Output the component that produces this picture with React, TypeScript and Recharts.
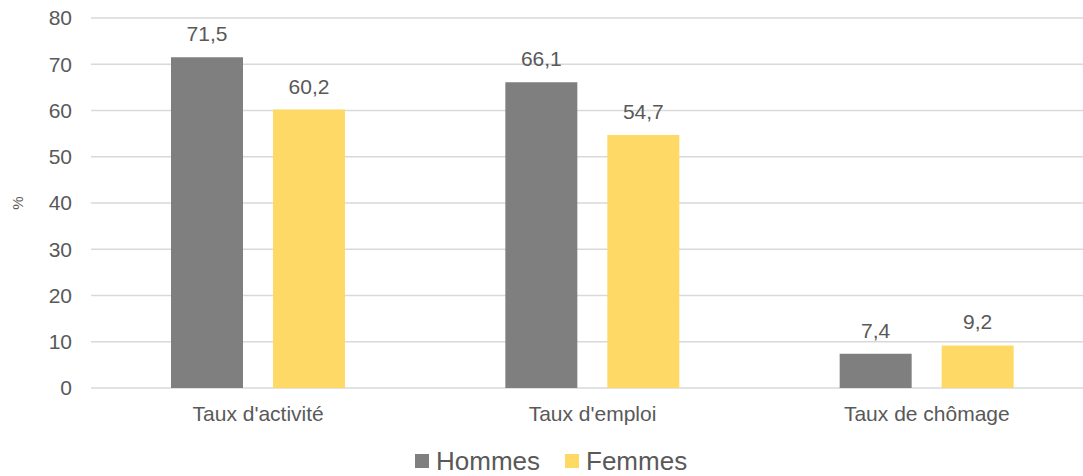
import { BarChart, Bar, XAxis, YAxis, CartesianGrid, LabelList } from "recharts";

const CATEGORIES = ["Taux d'activité", "Taux d'emploi", "Taux de chômage"];
const HOMMES = [71.5, 66.1, 7.4];
const FEMMES = [60.2, 54.7, 9.2];
const Y_TICKS = [0, 10, 20, 30, 40, 50, 60, 70, 80];

const SERIES = [
  { key: "hommes", name: "Hommes", color: "#7f7f7f" },
  { key: "femmes", name: "Femmes", color: "#ffd966" },
];

const TEXT = "#595959";
const FONT = "'Liberation Sans', Arial, sans-serif";

const data = CATEGORIES.map((c, i) => ({ name: c, hommes: HOMMES[i], femmes: FEMMES[i] }));

const fmt = (v: any) => String(v).replace(".", ",");

// "%" rotated on the far left, centred on the plot height
function PercentLabel(props: any) {
  const vb = props.viewBox || {};
  const cx = 17;
  const cy = (vb.y ?? 0) + (vb.height ?? 0) / 2;
  return (
    <text
      x={cx}
      y={cy}
      transform={`rotate(-90, ${cx}, ${cy})`}
      textAnchor="middle"
      dominantBaseline="central"
      fill={TEXT}
      fontSize={15}
      fontFamily={FONT}
    >
      %
    </text>
  );
}

export default function App() {
  return (
    <div
      style={{
        position: "fixed",
        left: 0,
        top: 0,
        width: 1083,
        height: 476,
        overflow: "hidden",
        background: "#fff",
        fontFamily: FONT,
      }}
    >
      <BarChart
        width={1102}
        height={476}
        data={data}
        margin={{ top: 18, right: 8, left: 1, bottom: 38 }}
        barGap={30}
        barSize={72}
      >
        <CartesianGrid vertical={false} stroke="#d9d9d9" strokeWidth={1.3} />
        <XAxis
          dataKey="name"
          axisLine={false}
          tickLine={false}
          tickSize={0}
          tickMargin={18}
          height={50}
          tick={{ fill: TEXT, fontSize: 21, fontFamily: FONT }}
        />
        <YAxis
          domain={[0, 80]}
          ticks={Y_TICKS}
          axisLine={false}
          tickLine={false}
          tickSize={0}
          tickMargin={19}
          width={90}
          tick={{ fill: TEXT, fontSize: 21, fontFamily: FONT }}
          label={<PercentLabel />}
        />
        {SERIES.map((s) => (
          <Bar key={s.key} dataKey={s.key} name={s.name} fill={s.color} isAnimationActive={false}>
            <LabelList
              dataKey={s.key}
              position="top"
              offset={16}
              formatter={fmt}
              fill={TEXT}
              fontSize={21}
              fontFamily={FONT}
            />
          </Bar>
        ))}
      </BarChart>
      <div
        style={{
          position: "absolute",
          left: 415,
          top: 447,
          display: "flex",
          alignItems: "center",
          gap: 25,
          fontSize: 26,
          color: TEXT,
          lineHeight: "28px",
        }}
      >
        {SERIES.map((s) => (
          <div key={s.key} style={{ display: "flex", alignItems: "center" }}>
            <span style={{ display: "inline-block", width: 14, height: 14, background: s.color, marginRight: 7 }} />
            <span>{s.name}</span>
          </div>
        ))}
      </div>
    </div>
  );
}
